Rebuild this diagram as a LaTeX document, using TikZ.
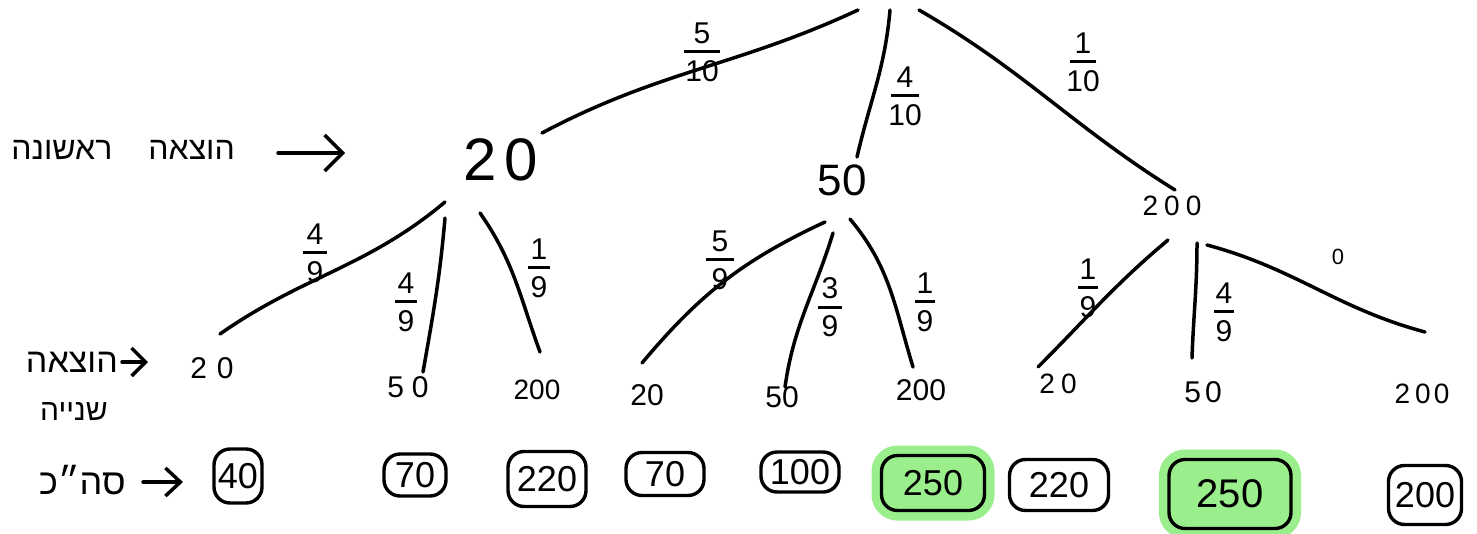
\documentclass[tikz,border=0pt]{standalone}
\usepackage{fontspec}
\setmainfont{Liberation Sans}
\newfontfamily\heb[Script=Hebrew]{Liberation Sans}
\TeXXeTstate=1
\usetikzlibrary{arrows.meta}
\definecolor{hlgreen}{RGB}{155,238,140}
\newcommand\fsz[1]{\fontsize{#1}{#1}\selectfont}
\newcommand\fr[3]{\vbox{\offinterlineskip\halign{\hfil##\hfil\cr #1\cr\noalign{\kern7pt}\vrule width #3 height 3pt depth 0pt\cr\noalign{\kern7pt}#2\cr}}}
\begin{document}
\begin{tikzpicture}[x=1pt,y=1pt,
  edge/.style={line width=3.5pt, line cap=round, line join=round},
  arrowsty/.style={line width=3.5pt, line cap=round, line join=round},
  lone/.style={inner sep=0pt},
  lvl/.style={inner sep=0pt, font=\fsz{30}},
  frac/.style={inner sep=0pt, font=\fsz{30}},
  tot/.style={draw, line width=3.4pt, rounded corners=16pt, inner sep=0pt, font=\fsz{36}},
  hl/.style={fill=hlgreen, preaction={draw=hlgreen, line width=20pt}},
  hebl/.style={inner sep=0pt}
]
\fill[white] (0,0) rectangle (1477,-533);
\useasboundingbox (0,0) rectangle (1477,-533);

% root and level 1
\coordinate (rt) at (889,-10);
\node[lone, font=\fsz{60}] (n20) at (501,-160) {2\kern8pt0};
\node[lone, font=\fsz{44}] (n50) at (842,-180) {50};
\node[lone, font=\fsz{28}] (n200) at (1172,-206) {2\kern6pt0\kern6pt0};

% level 2
\node[lvl] (a20) at (212,-368) {2\kern10pt0};
\node[lvl] (a50) at (408,-387) {5\kern8pt0};
\node[lvl, font=\fsz{28}] (a200) at (537,-390) {200};
\node[lvl] (b20) at (647,-395) {20};
\node[lvl] (b50) at (782,-397) {50};
\node[lvl] (b200) at (921,-390) {200};
\node[lvl, font=\fsz{28}] (c20) at (1058,-384) {2\kern6pt0};
\node[lvl] (c50) at (1203,-392) {5\kern4pt0};
\node[lvl, font=\fsz{28}] (c200) at (1422,-394) {2\kern5pt0\kern3pt0};

% edges root -> level 1
\draw[edge] ([shift={(-31,0)}]rt) to[out=205,in=28] ([shift={(41,27)}]n20.center);
\draw[edge] ([shift={(1,0)}]rt) to[out=265,in=77] ([shift={(15,23)}]n50.center);
\draw[edge] ([shift={(30,0)}]rt) to[out=-30,in=148] ([shift={(3,16)}]n200.center);

% edges level 1 -> level 2
\draw[edge] ([shift={(-56,-42)}]n20.center) to[out=220,in=35] ([shift={(8,34)}]a20.center);
\draw[edge] ([shift={(-56,-58)}]n20.center) to[out=265,in=80] ([shift={(15,15)}]a50.center);
\draw[edge] ([shift={(-21,-53)}]n20.center) to[out=-55,in=110] ([shift={(3,38)}]a200.center);

\draw[edge] ([shift={(-17,-42)}]n50.center) to[out=205,in=50] ([shift={(-5,32)}]b20.center);
\draw[edge] ([shift={(-9,-53)}]n50.center) to[out=253,in=82] ([shift={(3,10)}]b50.center);
\draw[edge] ([shift={(8,-39)}]n50.center) to[out=-50,in=107] ([shift={(-8,23)}]b200.center);

\draw[edge] ([shift={(-4,-34)}]n200.center) to[out=220,in=45] ([shift={(-20,17)}]c20.center);
\draw[edge] ([shift={(25,-37)}]n200.center) to[out=-90,in=88] ([shift={(-11,34)}]c50.center);
\draw[edge] ([shift={(35,-39)}]n200.center) to[out=-15,in=165] ([shift={(3,62)}]c200.center);

% probabilities
\node[frac] (f1) at (702,-52) {\fr{5}{10}{36pt}};
\node[frac] (f2) at (905,-96) {\fr{4}{10}{28pt}};
\node[frac] (f3) at (1083,-62) {\fr{1}{10}{26pt}};
\node[frac] (f4) at (315,-253) {\fr{4}{9}{24pt}};
\node[frac] (f5) at (406,-302) {\fr{4}{9}{22pt}};
\node[frac] (f6) at (539,-268) {\fr{1}{9}{22pt}};
\node[frac] (f7) at (720,-260) {\fr{5}{9}{28pt}};
\node[frac] (f8) at (830,-307) {\fr{3}{9}{24pt}};
\node[frac] (f9) at (925,-302) {\fr{1}{9}{20pt}};
\node[frac] (f10) at (1088,-288) {\fr{1}{9}{20pt}};
\node[frac] (f11) at (1224,-312) {\fr{4}{9}{20pt}};
\node[inner sep=0pt, font=\fsz{22}] (f12) at (1338,-257) {0};

% totals
\node[tot, minimum width=48pt, minimum height=54pt] (t1) at (238,-476) {40};
\node[tot, minimum width=62pt, minimum height=42pt] (t2) at (415,-475) {70};
\node[tot, minimum width=78pt, minimum height=55pt] (t3) at (547,-479) {220};
\node[tot, minimum width=78pt, minimum height=43pt] (t4) at (665,-474) {70};
\node[tot, minimum width=78pt, minimum height=40pt] (t5) at (800,-472) {100};
\node[tot, hl, minimum width=103pt, minimum height=55pt] (t6) at (933,-483) {250};
\node[tot, minimum width=99pt, minimum height=51pt] (t7) at (1059,-485) {220};
\node[tot, hl, minimum width=122pt, minimum height=69pt, font=\fsz{40}] (t8) at (1230,-494) {250};
\node[tot, minimum width=73pt, minimum height=59pt] (t9) at (1425,-495) {200};

% left labels
\node[hebl, anchor=east, font=\fsz{32}] (lab1) at (235,-150) {\heb\beginR הוצאה\hspace{36pt}ראשונה\endR};
\node[hebl, anchor=east, font=\fsz{34}] (lab2) at (118,-362) {\heb\beginR הוצאה\endR};
\node[hebl, anchor=east, font=\fsz{30}] (lab3) at (108,-412) {\heb\beginR שנייה\endR};
\node[hebl, anchor=east, font=\fsz{36}] (lab4) at (126,-480) {\heb\beginR סה״כ\endR};

\coordinate (ar1s) at (278,-153);
\coordinate (ar1e) at (345,-153);
\coordinate (ar2s) at (122,-362);
\coordinate (ar2e) at (148,-362);
\coordinate (ar3s) at (143,-482);
\coordinate (ar3e) at (183,-482);
\draw[arrowsty, -{Straight Barb[length=18pt,width=36pt]}] (ar1s) -- (ar1e);
\draw[arrowsty, -{Straight Barb[length=14pt,width=28pt]}] (ar2s) -- (ar2e);
\draw[arrowsty, -{Straight Barb[length=15pt,width=28pt]}] (ar3s) -- (ar3e);
\end{tikzpicture}
\end{document}
